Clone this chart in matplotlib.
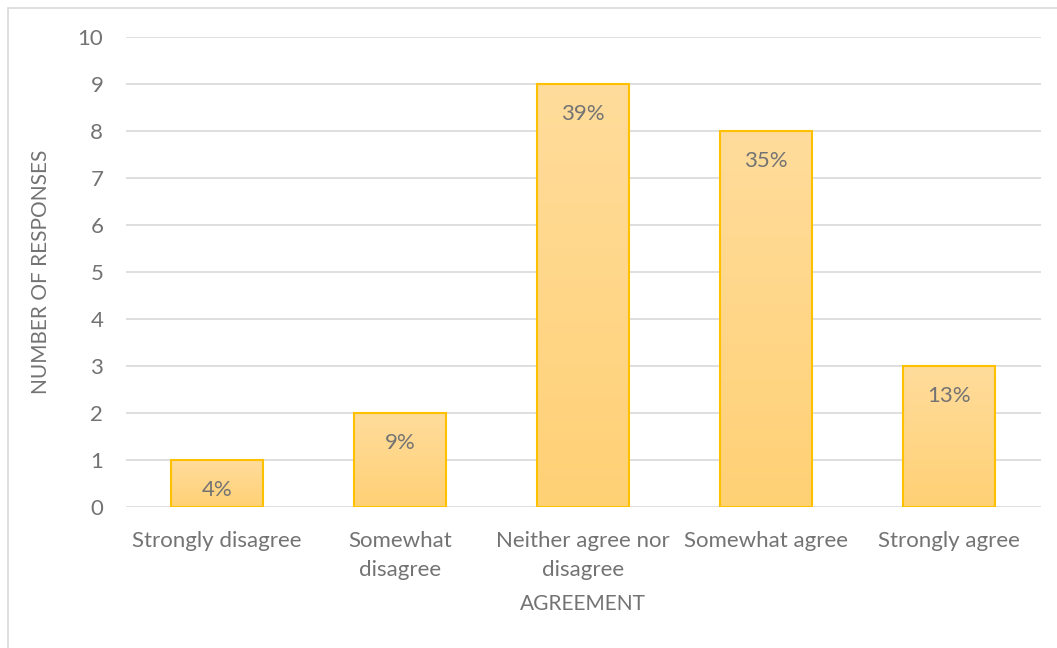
import matplotlib
matplotlib.use("Agg")
import matplotlib.pyplot as plt
import numpy as np
from matplotlib.patches import Rectangle
from matplotlib.colors import LinearSegmentedColormap

categories = ["Strongly disagree", "Somewhat\ndisagree", "Neither agree nor\ndisagree",
              "Somewhat agree", "Strongly agree"]
counts = [1, 2, 9, 8, 3]
pct_labels = ["4%", "9%", "39%", "35%", "13%"]
yticks = list(range(0, 11))

plt.rcParams['font.family'] = ['Lato', 'DejaVu Sans']
txt = '#737373'

fig = plt.figure(figsize=(10.57, 6.48), dpi=100)
ax = fig.add_axes([125.5/1057, 1-507/648, 915/1057, 470/648])

x = np.arange(len(categories))
bars = ax.bar(x, counts, width=0.5, color='none', edgecolor='#FFC000', linewidth=1.5, zorder=3)

cmap = LinearSegmentedColormap.from_list('g', ['#FFD175', '#FFDC9C'])
grad = np.linspace(0, 1, 256).reshape(-1, 1)
for b in bars:
    x0, y0 = b.get_x(), b.get_y()
    w, h = b.get_width(), b.get_height()
    im = ax.imshow(grad, extent=[x0, x0 + w, y0, y0 + h], origin='lower', aspect='auto',
                   cmap=cmap, zorder=2)
    im.set_clip_path(b)

for xi, c, lab in zip(x, counts, pct_labels):
    ax.annotate(lab, (xi, c), xytext=(0, -21.5), textcoords='offset points',
                ha='center', va='center', fontsize=16, color=txt, zorder=4)

ax.set_xlim(-0.5, 4.5)
ax.set_ylim(0, 10)
ax.set_yticks(yticks)
ax.set_xticks(x)
ax.set_xticklabels(categories, fontsize=16, color=txt, linespacing=1.6)
ax.tick_params(axis='y', labelsize=16, labelcolor=txt, length=0, pad=16)
ax.tick_params(axis='x', length=0, pad=17)
ax.grid(axis='y', color='#D9D9D9', linewidth=1.2, zorder=0)
ax.set_axisbelow(True)
for s in ax.spines.values():
    s.set_visible(False)

ax.set_ylabel('NUMBER OF RESPONSES', fontsize=15, color=txt, labelpad=19)
ax.set_xlabel('AGREEMENT', fontsize=15, color=txt, labelpad=10)

fig.patches.append(Rectangle((8/1057, -0.1), 1.2, (648 - 8)/648 + 0.1, transform=fig.transFigure,
                             fill=False, edgecolor='#D9D9D9', linewidth=1.2))

fig.savefig('out.png', dpi=100)
